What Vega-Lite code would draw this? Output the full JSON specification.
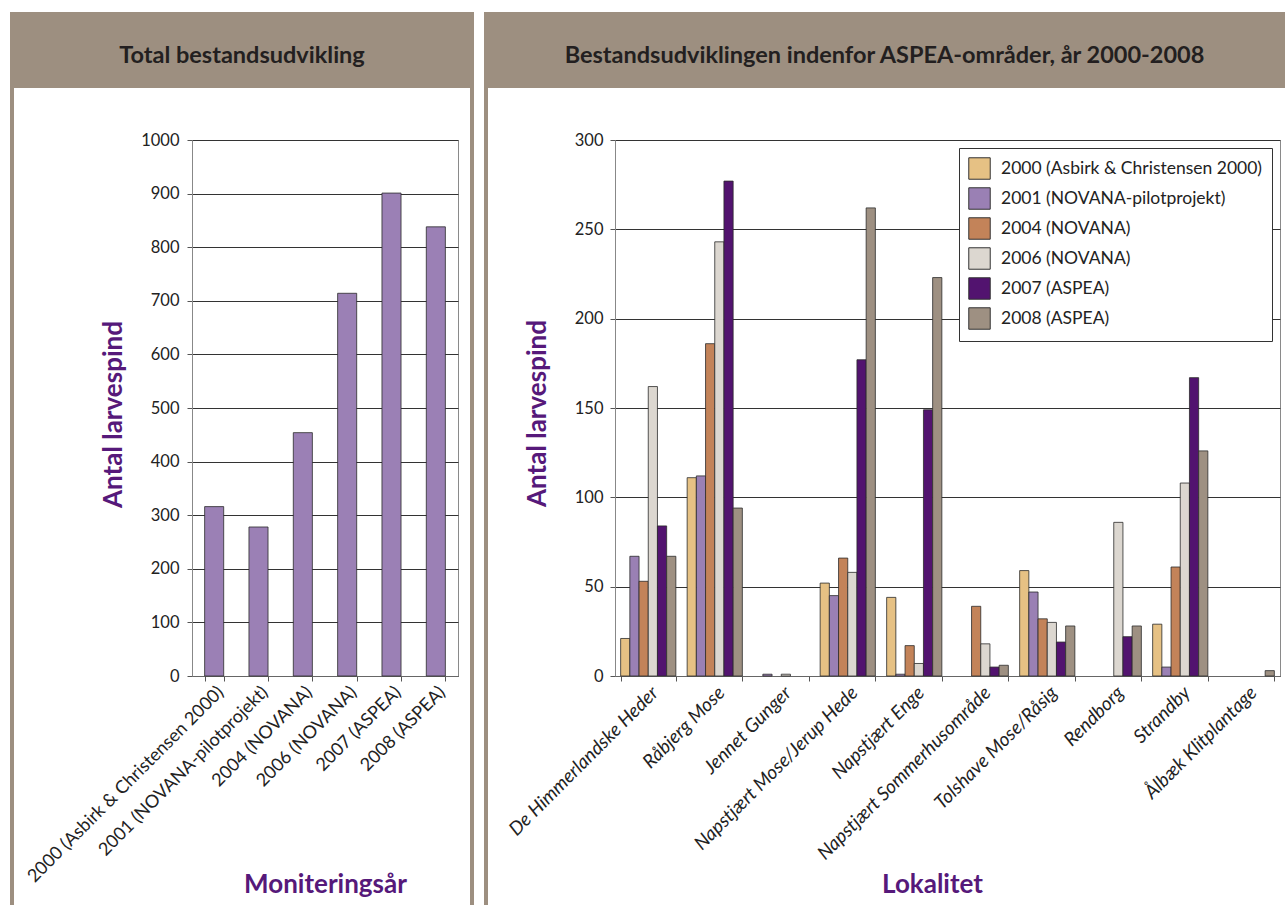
{
  "$schema": "https://vega.github.io/schema/vega-lite/v6.json",
  "padding": {"left": 10, "top": 12, "right": 0, "bottom": 0},
  "background": "white",
  "config": {"view": {"stroke": null}, "font": "Lato"},
  "spacing": 0,
  "vconcat": [
    {
      "hconcat": [
        {"width": 464, "height": 76, "view": {"fill": "#9d8f80", "stroke": null},
         "data": {"values": [{"t": "Total bestandsudvikling"}]},
         "mark": {"type": "text", "font": "Lato", "fontWeight": "bold", "fontSize": 23.5, "color": "#231f20", "baseline": "alphabetic", "dy": 13},
         "encoding": {"text": {"field": "t"}}},
        {"width": 10, "height": 76, "data": {"values": []}, "mark": "rect"},
        {"width": 801, "height": 76, "view": {"fill": "#9d8f80", "stroke": null},
         "data": {"values": [{"t": "Bestandsudviklingen indenfor ASPEA-områder, år 2000-2008"}]},
         "mark": {"type": "text", "font": "Lato", "fontWeight": "bold", "fontSize": 23.5, "color": "#231f20", "baseline": "alphabetic", "dy": 13},
         "encoding": {"text": {"field": "t"}}}
      ],
      "spacing": 0,
      "bounds": "flush"
    },
    {
      "columns": 10,
      "spacing": 0,
      "bounds": "flush",
      "align": "each",
      "resolve": {"scale": {"x": "independent", "y": "independent", "color": "independent"}},
      "concat": [
        {"width": 4, "height": 52, "data": {"values": []}, "mark": "rect", "view": {"fill": "#9d8f80"}},
        {"width": 178, "height": 52, "data": {"values": []}, "mark": "rect"},
        {"width": 266, "height": 52, "data": {"values": []}, "mark": "rect"},
        {"width": 12, "height": 52, "data": {"values": []}, "mark": "rect"},
        {"width": 4, "height": 52, "data": {"values": []}, "mark": "rect", "view": {"fill": "#9d8f80"}},
        {"width": 10, "height": 52, "data": {"values": []}, "mark": "rect"},
        {"width": 4, "height": 52, "data": {"values": []}, "mark": "rect", "view": {"fill": "#9d8f80"}},
        {"width": 127, "height": 52, "data": {"values": []}, "mark": "rect"},
        {"width": 665, "height": 52, "data": {"values": []}, "mark": "rect"},
        {"width": 5, "height": 52, "data": {"values": []}, "mark": "rect"},

        {"width": 4, "height": 536, "data": {"values": []}, "mark": "rect", "view": {"fill": "#9d8f80"}},
        {"width": 178, "height": 536, "data": {"values": []}, "mark": "rect"},
        {
          "width": 266, "height": 536,
          "view": {"stroke": "#8a8a8a", "strokeWidth": 1},
          "data": {"values": [
            {"aar": "2000 (Asbirk & Christensen 2000)", "total": 316},
            {"aar": "2001 (NOVANA-pilotprojekt)", "total": 278},
            {"aar": "2004 (NOVANA)", "total": 454},
            {"aar": "2006 (NOVANA)", "total": 714},
            {"aar": "2007 (ASPEA)", "total": 901},
            {"aar": "2008 (ASPEA)", "total": 838}
          ]},
          "mark": {"type": "bar", "color": "#9b80b5", "stroke": "#2b2b2b", "strokeWidth": 0.8},
          "encoding": {
            "x": {"field": "aar", "type": "nominal", "sort": null,
                  "scale": {"paddingInner": 0.57, "paddingOuter": 0.285},
                  "axis": {"title": "Moniteringsår", "labelAngle": -45, "labelFontSize": 18, "labelColor": "#222222", "labelFont": "Lato",
                           "labelPadding": 2, "labelLimit": 500, "tickBand": "extent", "tickSize": 5, "tickColor": "#555555", "domainColor": "#666666",
                           "titleFont": "Lato", "titleFontWeight": "bold", "titleFontSize": 26, "titleColor": "#56197a",
                           "titleBaseline": "alphabetic", "titleY": 216, "titleAlign": "center", "titleX": 133}},
            "y": {"field": "total", "type": "quantitative", "scale": {"domain": [0, 1000], "nice": false},
                  "axis": {"title": "Antal larvespind", "values": [0, 100, 200, 300, 400, 500, 600, 700, 800, 900, 1000], "format": "d",
                           "grid": true, "gridColor": "#333333", "gridWidth": 1, "domainColor": "#888888", "tickSize": 5, "tickColor": "#555555",
                           "labelFontSize": 16.5, "labelPadding": 8, "labelColor": "#222222", "labelFont": "Lato",
                           "titleFont": "Lato", "titleFontWeight": "bold", "titleFontSize": 26, "titleColor": "#56197a",
                           "titleX": -79, "titleY": 274, "titleBaseline": "middle", "titleAlign": "center", "titleAngle": 270}}
          }
        },
        {"width": 12, "height": 536, "data": {"values": []}, "mark": "rect"},
        {"width": 4, "height": 536, "data": {"values": []}, "mark": "rect", "view": {"fill": "#9d8f80"}},
        {"width": 10, "height": 536, "data": {"values": []}, "mark": "rect"},
        {"width": 4, "height": 536, "data": {"values": []}, "mark": "rect", "view": {"fill": "#9d8f80"}},
        {"width": 127, "height": 536, "data": {"values": []}, "mark": "rect"},
        {
          "width": 665, "height": 536,
          "view": {"stroke": "#8a8a8a", "strokeWidth": 1},
          "data": {"values": [
            {"lokalitet": "De Himmerlandske Heder", "serie": "2000 (Asbirk & Christensen 2000)", "antal": 21},
            {"lokalitet": "De Himmerlandske Heder", "serie": "2001 (NOVANA-pilotprojekt)", "antal": 67},
            {"lokalitet": "De Himmerlandske Heder", "serie": "2004 (NOVANA)", "antal": 53},
            {"lokalitet": "De Himmerlandske Heder", "serie": "2006 (NOVANA)", "antal": 162},
            {"lokalitet": "De Himmerlandske Heder", "serie": "2007 (ASPEA)", "antal": 84},
            {"lokalitet": "De Himmerlandske Heder", "serie": "2008 (ASPEA)", "antal": 67},
            {"lokalitet": "Råbjerg Mose", "serie": "2000 (Asbirk & Christensen 2000)", "antal": 111},
            {"lokalitet": "Råbjerg Mose", "serie": "2001 (NOVANA-pilotprojekt)", "antal": 112},
            {"lokalitet": "Råbjerg Mose", "serie": "2004 (NOVANA)", "antal": 186},
            {"lokalitet": "Råbjerg Mose", "serie": "2006 (NOVANA)", "antal": 243},
            {"lokalitet": "Råbjerg Mose", "serie": "2007 (ASPEA)", "antal": 277},
            {"lokalitet": "Råbjerg Mose", "serie": "2008 (ASPEA)", "antal": 94},
            {"lokalitet": "Jennet Gunger", "serie": "2001 (NOVANA-pilotprojekt)", "antal": 1},
            {"lokalitet": "Jennet Gunger", "serie": "2006 (NOVANA)", "antal": 1},
            {"lokalitet": "Napstjært Mose/Jerup Hede", "serie": "2000 (Asbirk & Christensen 2000)", "antal": 52},
            {"lokalitet": "Napstjært Mose/Jerup Hede", "serie": "2001 (NOVANA-pilotprojekt)", "antal": 45},
            {"lokalitet": "Napstjært Mose/Jerup Hede", "serie": "2004 (NOVANA)", "antal": 66},
            {"lokalitet": "Napstjært Mose/Jerup Hede", "serie": "2006 (NOVANA)", "antal": 58},
            {"lokalitet": "Napstjært Mose/Jerup Hede", "serie": "2007 (ASPEA)", "antal": 177},
            {"lokalitet": "Napstjært Mose/Jerup Hede", "serie": "2008 (ASPEA)", "antal": 262},
            {"lokalitet": "Napstjært Enge", "serie": "2000 (Asbirk & Christensen 2000)", "antal": 44},
            {"lokalitet": "Napstjært Enge", "serie": "2001 (NOVANA-pilotprojekt)", "antal": 1},
            {"lokalitet": "Napstjært Enge", "serie": "2004 (NOVANA)", "antal": 17},
            {"lokalitet": "Napstjært Enge", "serie": "2006 (NOVANA)", "antal": 7},
            {"lokalitet": "Napstjært Enge", "serie": "2007 (ASPEA)", "antal": 149},
            {"lokalitet": "Napstjært Enge", "serie": "2008 (ASPEA)", "antal": 223},
            {"lokalitet": "Napstjært Sommerhusområde", "serie": "2004 (NOVANA)", "antal": 39},
            {"lokalitet": "Napstjært Sommerhusområde", "serie": "2006 (NOVANA)", "antal": 18},
            {"lokalitet": "Napstjært Sommerhusområde", "serie": "2007 (ASPEA)", "antal": 5},
            {"lokalitet": "Napstjært Sommerhusområde", "serie": "2008 (ASPEA)", "antal": 6},
            {"lokalitet": "Tolshave Mose/Råsig", "serie": "2000 (Asbirk & Christensen 2000)", "antal": 59},
            {"lokalitet": "Tolshave Mose/Råsig", "serie": "2001 (NOVANA-pilotprojekt)", "antal": 47},
            {"lokalitet": "Tolshave Mose/Råsig", "serie": "2004 (NOVANA)", "antal": 32},
            {"lokalitet": "Tolshave Mose/Råsig", "serie": "2006 (NOVANA)", "antal": 30},
            {"lokalitet": "Tolshave Mose/Råsig", "serie": "2007 (ASPEA)", "antal": 19},
            {"lokalitet": "Tolshave Mose/Råsig", "serie": "2008 (ASPEA)", "antal": 28},
            {"lokalitet": "Rendborg", "serie": "2006 (NOVANA)", "antal": 86},
            {"lokalitet": "Rendborg", "serie": "2007 (ASPEA)", "antal": 22},
            {"lokalitet": "Rendborg", "serie": "2008 (ASPEA)", "antal": 28},
            {"lokalitet": "Strandby", "serie": "2000 (Asbirk & Christensen 2000)", "antal": 29},
            {"lokalitet": "Strandby", "serie": "2001 (NOVANA-pilotprojekt)", "antal": 5},
            {"lokalitet": "Strandby", "serie": "2004 (NOVANA)", "antal": 61},
            {"lokalitet": "Strandby", "serie": "2006 (NOVANA)", "antal": 108},
            {"lokalitet": "Strandby", "serie": "2007 (ASPEA)", "antal": 167},
            {"lokalitet": "Strandby", "serie": "2008 (ASPEA)", "antal": 126},
            {"lokalitet": "Ålbæk Klitplantage", "serie": "2008 (ASPEA)", "antal": 3}
          ]},
          "mark": {"type": "bar", "stroke": "#2b2b2b", "strokeWidth": 0.8},
          "encoding": {
            "x": {"field": "lokalitet", "type": "nominal",
                  "sort": ["De Himmerlandske Heder", "Råbjerg Mose", "Jennet Gunger", "Napstjært Mose/Jerup Hede", "Napstjært Enge", "Napstjært Sommerhusområde", "Tolshave Mose/Råsig", "Rendborg", "Strandby", "Ålbæk Klitplantage"],
                  "scale": {"paddingInner": 0.17, "paddingOuter": 0.085},
                  "axis": {"title": "Lokalitet", "labelAngle": -45, "labelFontSize": 19, "labelFontStyle": "italic", "labelColor": "#222222", "labelFont": "Lato",
                           "labelPadding": 2, "labelLimit": 500, "tickBand": "extent", "tickSize": 5, "tickColor": "#555555", "domainColor": "#666666",
                           "titleFont": "Lato", "titleFontWeight": "bold", "titleFontSize": 26, "titleColor": "#56197a",
                           "titleBaseline": "alphabetic", "titleY": 216, "titleAlign": "center", "titleX": 317}},
            "xOffset": {"field": "serie", "type": "nominal",
                        "sort": ["2000 (Asbirk & Christensen 2000)", "2001 (NOVANA-pilotprojekt)", "2004 (NOVANA)", "2006 (NOVANA)", "2007 (ASPEA)", "2008 (ASPEA)"],
                        "scale": {"paddingInner": 0, "paddingOuter": 0}},
            "y": {"field": "antal", "type": "quantitative", "scale": {"domain": [0, 300], "nice": false},
                  "axis": {"title": "Antal larvespind", "values": [0, 50, 100, 150, 200, 250, 300],
                           "grid": true, "gridColor": "#333333", "gridWidth": 1, "domainColor": "#888888", "tickSize": 5, "tickColor": "#555555",
                           "labelFontSize": 16.5, "labelPadding": 7, "labelColor": "#222222", "labelFont": "Lato",
                           "titleFont": "Lato", "titleFontWeight": "bold", "titleFontSize": 26, "titleColor": "#56197a",
                           "titleX": -78, "titleY": 273, "titleBaseline": "middle", "titleAlign": "center", "titleAngle": 270}},
            "color": {"field": "serie", "type": "nominal",
                      "scale": {"domain": ["2000 (Asbirk & Christensen 2000)", "2001 (NOVANA-pilotprojekt)", "2004 (NOVANA)", "2006 (NOVANA)", "2007 (ASPEA)", "2008 (ASPEA)"],
                                "range": ["#e6c184", "#9a80b4", "#c38359", "#dcd7d0", "#52136f", "#9e9082"]},
                      "legend": {"title": null, "orient": "top-right", "offset": 8, "fillColor": "white", "strokeColor": "#333333", "padding": 9,
                                 "symbolType": "square", "symbolSize": 460, "symbolStrokeColor": "#333333", "symbolStrokeWidth": 1, "symbolOpacity": 1,
                                 "labelFontSize": 17.5, "labelFont": "Lato", "labelColor": "#222222", "rowPadding": 3, "labelOffset": 10, "labelLimit": 400}}
          }
        },
        {"width": 5, "height": 536, "data": {"values": []}, "mark": "rect"},

        {"width": 4, "height": 229, "data": {"values": []}, "mark": "rect", "view": {"fill": "#9d8f80"}},
        {"width": 178, "height": 229, "data": {"values": []}, "mark": "rect"},
        {"width": 266, "height": 229, "data": {"values": []}, "mark": "rect"},
        {"width": 12, "height": 229, "data": {"values": []}, "mark": "rect"},
        {"width": 4, "height": 229, "data": {"values": []}, "mark": "rect", "view": {"fill": "#9d8f80"}},
        {"width": 10, "height": 229, "data": {"values": []}, "mark": "rect"},
        {"width": 4, "height": 229, "data": {"values": []}, "mark": "rect", "view": {"fill": "#9d8f80"}},
        {"width": 127, "height": 229, "data": {"values": []}, "mark": "rect"},
        {"width": 665, "height": 229, "data": {"values": []}, "mark": "rect"},
        {"width": 5, "height": 229, "data": {"values": []}, "mark": "rect"}
      ]
    }
  ]
}
